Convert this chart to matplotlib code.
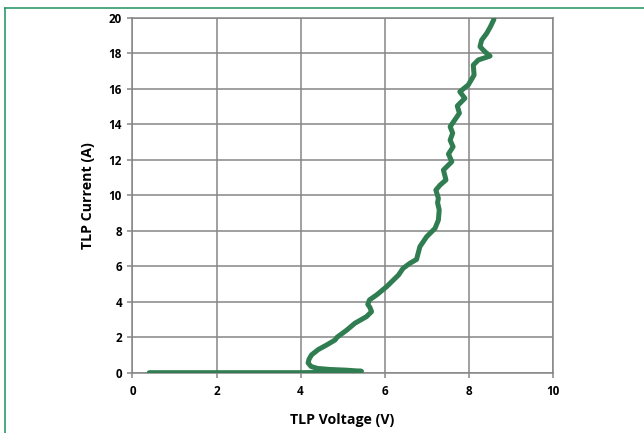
import matplotlib
matplotlib.use('Agg')
import matplotlib.pyplot as plt
from matplotlib.lines import Line2D

# TLP I-V curve
voltage = [0.40, 2.0, 4.0, 4.8, 5.2, 5.45, 5.1, 4.7, 4.4, 4.25, 4.18, 4.2, 4.26,
           4.42, 4.62, 4.82, 4.87, 5.10, 5.29, 5.57, 5.69, 5.65, 5.60, 5.64,
           5.81, 6.05, 6.33, 6.44, 6.60, 6.76, 6.84, 7.00, 7.20, 7.28, 7.30,
           7.26, 7.28, 7.22, 7.32, 7.46, 7.40, 7.60, 7.52, 7.63, 7.56, 7.62,
           7.56, 7.67, 7.78, 7.73, 7.91, 7.79, 7.99, 8.13, 8.11, 8.23, 8.51,
           8.39, 8.27, 8.31, 8.43, 8.52, 8.60]
current = [0.0, 0.0, 0.0, 0.02, 0.05, 0.08, 0.14, 0.18, 0.24, 0.35, 0.55, 0.75, 1.0,
           1.3, 1.56, 1.84, 2.0, 2.4, 2.78, 3.16, 3.44, 3.68, 3.85, 4.1,
           4.38, 4.85, 5.5, 5.88, 6.16, 6.38, 7.1, 7.66, 8.13, 8.6, 9.17,
           9.58, 9.82, 10.29, 10.57, 10.86, 11.42, 11.89, 12.32, 12.73, 13.1, 13.5,
           13.86, 14.24, 14.62, 15.03, 15.46, 15.83, 16.21, 16.77, 17.33, 17.62, 17.84,
           18.08, 18.37, 18.74, 19.12, 19.5, 19.9]

x_ticks = [0, 2, 4, 6, 8, 10]
y_ticks = [0, 2, 4, 6, 8, 10, 12, 14, 16, 18, 20]

plt.rcParams['font.family'] = ['Open Sans', 'DejaVu Sans']
grid_col = '#868686'

fig = plt.figure(figsize=(6.44, 4.33), dpi=100)
ax = fig.add_axes([0.2057, 0.1393, 0.6525, 0.8198])

ax.plot(voltage, current, color='#2f7d50', lw=3.6, solid_capstyle='round',
        solid_joinstyle='round', zorder=3)

ax.set_xlim(0, 10)
ax.set_ylim(0, 20)
ax.set_xticks(x_ticks)
ax.set_yticks(y_ticks)
ax.grid(True, color=grid_col, lw=1.1)
for s in ax.spines.values():
    s.set_color(grid_col)
    s.set_linewidth(1.1)
ax.tick_params(axis='both', direction='out', length=3.6, width=1.1, color=grid_col,
               labelsize=8.4, pad=4)
ax.tick_params(axis='x', pad=5)
for lab in ax.get_xticklabels() + ax.get_yticklabels():
    lab.set_fontweight('bold')

ax.set_xlabel('TLP Voltage (V)', fontsize=10.2, fontweight='bold', labelpad=11)
ax.set_ylabel('TLP Current (A)', fontsize=10.2, fontweight='bold', labelpad=10)

# green frame around the chart area (top and left edges visible)
fig.add_artist(Line2D([5 / 644, 1.0], [1 - 8 / 433, 1 - 8 / 433],
                      transform=fig.transFigure, color='#2e9a6c', lw=1.2))
fig.add_artist(Line2D([5 / 644, 5 / 644], [0.0, 1 - 8 / 433],
                      transform=fig.transFigure, color='#2e9a6c', lw=1.2))

fig.savefig('out.png', dpi=100)
